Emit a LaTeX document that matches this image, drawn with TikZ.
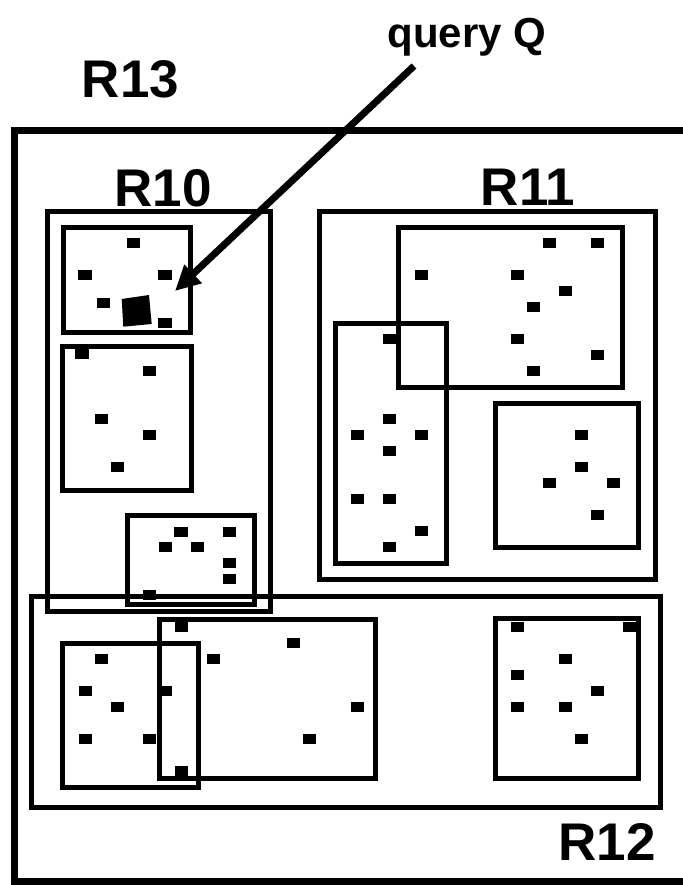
\documentclass[tikz,border=0pt]{standalone}
\usepackage{fontspec}
\setmainfont{Liberation Sans}
\usetikzlibrary{arrows.meta}
\begin{document}
\begin{tikzpicture}[x=1pt,y=-1pt,
  outerbox/.style={draw=black,line width=7},
  mbr/.style={draw=black,line width=5},
  lbl/.style={font=\fontsize{53}{53}\selectfont\bfseries,inner sep=0,anchor=base},
  qlbl/.style={font=\fontsize{42}{42}\selectfont\bfseries,inner sep=0,anchor=base},
  pointer/.style={line width=7,-{Triangle[length=25pt,width=24pt]}}]
\useasboundingbox (0,0) rectangle (682,885);
\fill[white] (0,0) rectangle (682,885);

% root region R13 (its right side runs past the page edge)
\draw[outerbox] (14,131) rectangle (692,881);

% second-level regions
\draw[mbr] (47,211.5) rectangle (270,611);     % R10
\draw[mbr] (319,212) rectangle (655,579);      % R11
\draw[mbr] (31,596) rectangle (660.5,807.5);   % R12

% leaves of R10
\draw[mbr] (63,227.5) rectangle (190,332.5);
\draw[mbr] (62.5,346) rectangle (191,490);
\draw[mbr] (127,515) rectangle (254,604.5);

% leaves of R11
\draw[mbr] (398.5,227.5) rectangle (622.5,387.5);
\draw[mbr] (335,323.5) rectangle (446.5,563.5);
\draw[mbr] (495,403.5) rectangle (638.5,547.5);

% leaves of R12
\draw[mbr] (62.5,643.5) rectangle (198.5,787.5);
\draw[mbr] (159,619) rectangle (375,778.5);
\draw[mbr] (495,618.5) rectangle (638.5,778.5);

% data points
\foreach \px/\py in {
  133.3/243.3, 85/275.3, 165/275.3, 103.3/302.7, 165/323.3,
  82/354, 149.3/371.3, 101.3/419.3, 149.3/435.3, 117.3/467.3,
  181/531.7, 229.3/531.7, 165.3/547.3, 197.3/547.3, 229.3/563.3, 229.3/579.3, 149.3/595.3,
  549.3/243.3, 597.3/243.3, 421.3/275.3, 517.3/275.3, 565.3/291.3, 533.3/307.3,
  389.3/339.3, 517.3/339.3, 597.3/355.3, 533.3/371.3,
  389.3/419.3, 357.3/435.3, 421.3/435.3, 389.3/451.3, 357.3/499.3, 389.3/499.3,
  421.3/531.3, 389.3/547.3,
  581.3/435.3, 581.3/467.3, 549.3/483.3, 613.3/483.3, 597.3/515.3,
  181.3/627.3, 293.3/643.3, 101.3/659.3, 213.3/659.3, 85.3/691.3, 165.3/691.3,
  117.3/707.3, 85.3/739.3, 149.3/739.3, 309.3/739.3, 181.3/771.3, 357.3/707.3,
  517.7/627.3, 629.7/627.3, 565.7/659.3, 517.7/675.3, 597.7/691.3,
  517.7/707.3, 565.7/707.3, 581.7/739.3}
  \fill (\px-6.65,\py-5) rectangle ++(13.3,10);

% query object
\fill (121.7,299) -- (149,295) -- (151.7,324) -- (123.3,326.7) -- cycle;

% labels
\node[lbl] (r13) at (130.5,98) {R13};
\node[lbl] (r10) at (163.3,206.7) {R10};
\node[lbl] (r11) at (528,206) {R11};
\node[lbl] (r12) at (607,860) {R12};
\node[qlbl] (qtext) at (467,48) {query Q};

% pointer to the query object
\coordinate (qstart) at (414,66);
\coordinate (qtip) at (175,291);
\draw[pointer] (qstart) -- (qtip);
\end{tikzpicture}
\end{document}
